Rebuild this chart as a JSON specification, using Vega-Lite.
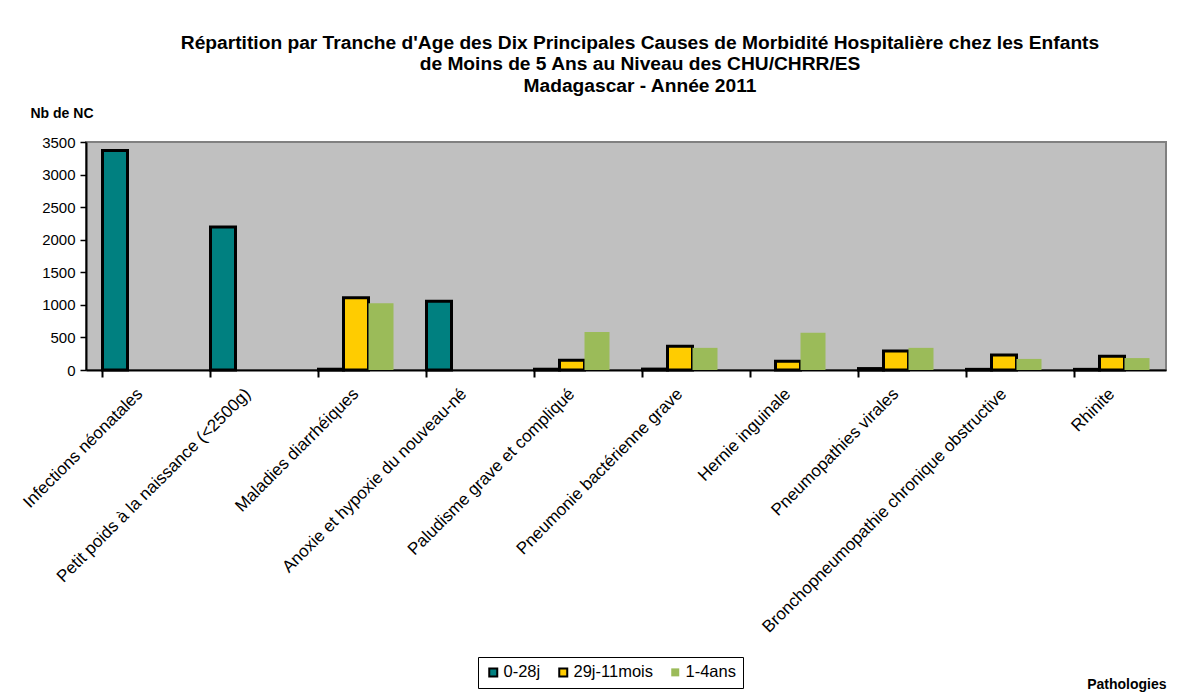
{
  "$schema": "https://vega.github.io/schema/vega-lite/v6.json",
  "width": 1080,
  "height": 228,
  "autosize": {"type": "none"},
  "padding": {"left": 86, "top": 142, "right": 28, "bottom": 328},
  "background": "white",
  "config": {
    "font": "Liberation Sans",
    "view": {"fill": "#C0C0C0", "stroke": "#808080", "strokeWidth": 2}
  },
  "title": {
    "text": ["Répartition par Tranche d'Age des Dix Principales Causes de Morbidité Hospitalière chez les Enfants", "de Moins de 5 Ans au Niveau des CHU/CHRR/ES", "Madagascar - Année 2011"],
    "font": "Liberation Sans",
    "fontSize": 19.2,
    "fontWeight": "bold",
    "color": "black",
    "anchor": "middle",
    "dx": 14,
    "offset": 10,
    "lineHeight": 21.5
  },
  "data": {
    "values": [
      {"cause": "Infections néonatales", "age": "0-28j", "n": 3370},
      {"cause": "Petit poids à la naissance (<2500g)", "age": "0-28j", "n": 2195},
      {"cause": "Maladies diarrhéiques", "age": "0-28j", "n": 12},
      {"cause": "Maladies diarrhéiques", "age": "29j-11mois", "n": 1110},
      {"cause": "Maladies diarrhéiques", "age": "1-4ans", "n": 1025},
      {"cause": "Anoxie et hypoxie du nouveau-né", "age": "0-28j", "n": 1055},
      {"cause": "Paludisme grave et compliqué", "age": "0-28j", "n": 12},
      {"cause": "Paludisme grave et compliqué", "age": "29j-11mois", "n": 150},
      {"cause": "Paludisme grave et compliqué", "age": "1-4ans", "n": 585},
      {"cause": "Pneumonie bactérienne grave", "age": "0-28j", "n": 14},
      {"cause": "Pneumonie bactérienne grave", "age": "29j-11mois", "n": 365},
      {"cause": "Pneumonie bactérienne grave", "age": "1-4ans", "n": 340},
      {"cause": "Hernie inguinale", "age": "29j-11mois", "n": 135},
      {"cause": "Hernie inguinale", "age": "1-4ans", "n": 570},
      {"cause": "Pneumopathies virales", "age": "0-28j", "n": 22},
      {"cause": "Pneumopathies virales", "age": "29j-11mois", "n": 290},
      {"cause": "Pneumopathies virales", "age": "1-4ans", "n": 340},
      {"cause": "Bronchopneumopathie chronique obstructive", "age": "0-28j", "n": 10},
      {"cause": "Bronchopneumopathie chronique obstructive", "age": "29j-11mois", "n": 230},
      {"cause": "Bronchopneumopathie chronique obstructive", "age": "1-4ans", "n": 170},
      {"cause": "Rhinite", "age": "0-28j", "n": 10},
      {"cause": "Rhinite", "age": "29j-11mois", "n": 212},
      {"cause": "Rhinite", "age": "1-4ans", "n": 183}
    ]
  },
  "mark": {"type": "bar", "strokeWidth": 3, "strokeJoin": "miter"},
  "encoding": {
    "x": {
      "field": "cause",
      "type": "nominal",
      "sort": null,
      "scale": {"paddingInner": 0.3056, "paddingOuter": 0.1528},
      "axis": {
        "title": "Pathologies",
        "titleFont": "Liberation Sans",
        "titleFontSize": 14,
        "titleFontWeight": "bold",
        "titleColor": "black",
        "titleAnchor": "end",
        "titleAlign": "right",
        "titleX": 1080,
        "titleY": 307,
        "labelAngle": -45,
        "labelAlign": "right",
        "labelBaseline": "middle",
        "labelPadding": 14,
        "labelFontSize": 17,
        "labelColor": "black",
        "labelLimit": 0,
        "bandPosition": 0,
        "tickColor": "black",
        "tickSize": 7,
        "tickWidth": 2,
        "domainColor": "black",
        "domainWidth": 2,
        "grid": false
      }
    },
    "xOffset": {
      "field": "age",
      "type": "nominal",
      "sort": ["0-28j", "29j-11mois", "1-4ans"]
    },
    "y": {
      "field": "n",
      "type": "quantitative",
      "scale": {"domain": [0, 3500], "nice": false},
      "axis": {
        "title": "Nb de NC",
        "titleAngle": 0,
        "titleAlign": "left",
        "titleBaseline": "middle",
        "titleX": -56,
        "titleY": -29,
        "titleFont": "Liberation Sans",
        "titleFontSize": 14,
        "titleFontWeight": "bold",
        "titleColor": "black",
        "values": [0, 500, 1000, 1500, 2000, 2500, 3000, 3500],
        "format": "d",
        "labelFontSize": 15,
        "labelColor": "black",
        "labelPadding": 5,
        "tickColor": "black",
        "tickSize": 6,
        "tickWidth": 1.5,
        "domainColor": "black",
        "domainWidth": 2,
        "grid": false
      }
    },
    "fill": {
      "field": "age",
      "type": "nominal",
      "sort": ["0-28j", "29j-11mois", "1-4ans"],
      "scale": {"domain": ["0-28j", "29j-11mois", "1-4ans"], "range": ["#008080", "#FFCC00", "#9BBB59"]},
      "legend": {
        "title": null,
        "orient": "none",
        "direction": "horizontal",
        "legendX": 392,
        "legendY": 515,
        "symbolType": "square",
        "symbolSize": 64,
        "symbolStrokeWidth": 2,
        "labelFontSize": 16.5,
        "labelColor": "black",
        "labelOffset": 2,
        "columnPadding": 14,
        "strokeColor": "black",
        "padding": 7,
        "fillColor": "white"
      }
    },
    "stroke": {
      "field": "age",
      "type": "nominal",
      "sort": ["0-28j", "29j-11mois", "1-4ans"],
      "scale": {"domain": ["0-28j", "29j-11mois", "1-4ans"], "range": ["black", "black", "transparent"]},
      "legend": {
        "title": null,
        "orient": "none",
        "direction": "horizontal",
        "legendX": 392,
        "legendY": 515,
        "symbolType": "square",
        "symbolSize": 64,
        "symbolStrokeWidth": 2,
        "labelFontSize": 16.5,
        "labelColor": "black",
        "labelOffset": 2,
        "columnPadding": 14,
        "strokeColor": "black",
        "padding": 7,
        "fillColor": "white"
      }
    }
  }
}
